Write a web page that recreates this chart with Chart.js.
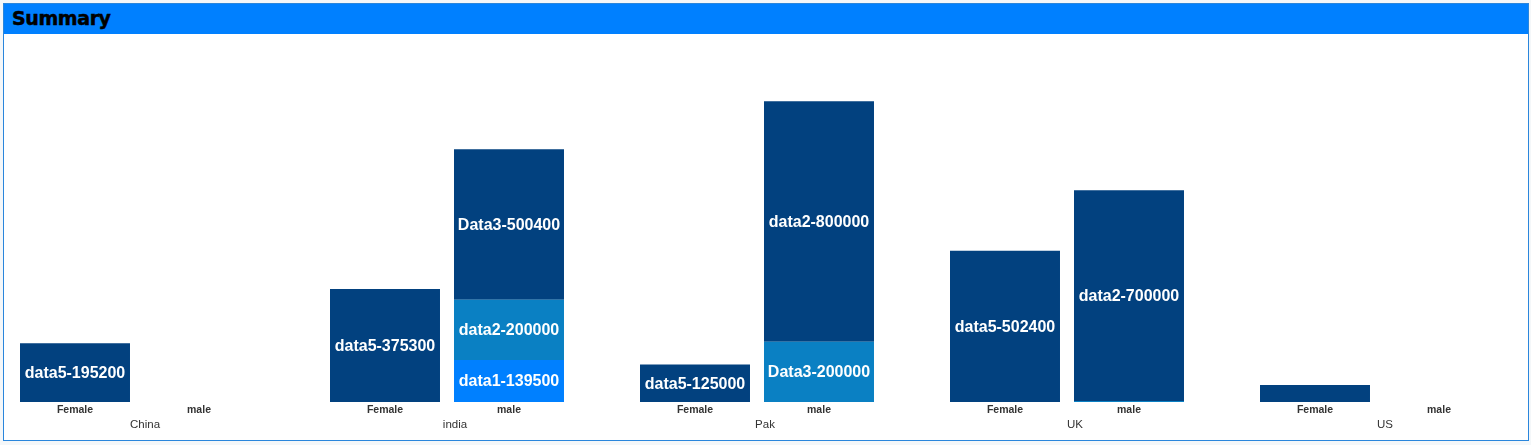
<!DOCTYPE html>
<html>
<head>
<meta charset="utf-8">
<script src="https://cdn.jsdelivr.net/npm/chart.js@4"></script>
<style>
  html, body { margin: 0; padding: 0; width: 1531px; height: 445px; overflow: hidden; background: #f4f7f9; }
  #panel { position: absolute; left: 3px; top: 3px; width: 1524px; height: 436px; border: 1px solid #2a86dc; background: #ffffff; }
  #titlebar { position: absolute; left: 0; top: 0; width: 1524px; height: 30px; background: #0080ff; }
  #title { position: absolute; left: 8px; top: 3px; font-family: "DejaVu Sans", Verdana, sans-serif; font-weight: bold; font-size: 19px; letter-spacing: -0.4px; color: #000; -webkit-text-stroke: 0.5px #000; }
  #wrap { position: absolute; left: -18px; top: 34px; width: 1550px; height: 406px; }
</style>
</head>
<body>
<div id="panel"><div id="titlebar"><div id="title">Summary</div></div></div>
<div id="wrap"><canvas id="c" width="1550" height="406"></canvas></div>
<script>
const countries = ['China', 'india', 'Pak', 'UK', 'US'];
const subLabels = ['Female', 'male'];

const femaleNames  = ['data5', 'data5', 'data5', 'data5', 'data5'];
const femaleValues = [195200, 375300, 125000, 502400, 56500];

const maleBottomNames  = ['', 'data1', 'Data3', 'data1', ''];
const maleBottomValues = [0, 139500, 200000, 3500, 0];

const maleMiddleNames  = ['', 'data2', 'data2', 'data2', ''];
const maleMiddleValues = [0, 200000, 800000, 700000, 0];

const maleTopNames  = ['', 'Data3', '', '', ''];
const maleTopValues = [0, 500400, 0, 0, 0];

const palette = ['#02417f', '#0a80c3', '#0080ff'];

function segColor(ctx) {
  const ds = ctx.chart.data.datasets;
  const i = ctx.dataIndex;
  const me = ds[ctx.datasetIndex];
  let rank = 0;
  for (let k = ctx.datasetIndex + 1; k < ds.length; k++) {
    if (ds[k].stack === me.stack && ds[k].data[i] > 0) rank++;
  }
  return palette[Math.min(rank, palette.length - 1)];
}

const segLabels = {
  id: 'segLabels',
  afterDatasetsDraw(chart) {
    const c = chart.ctx;
    c.save();
    c.fillStyle = '#ffffff';
    c.font = 'bold 16px "Liberation Sans", Arial, sans-serif';
    c.textAlign = 'center';
    c.textBaseline = 'middle';
    chart.data.datasets.forEach((d, di) => {
      const meta = chart.getDatasetMeta(di);
      meta.data.forEach((el, i) => {
        const v = d.data[i];
        if (!v) return;
        const h = Math.abs(el.base - el.y);
        if (h < 24) return;
        c.fillText(d.names[i] + '-' + v, el.x, (el.y + el.base) / 2 + 1);
      });
    });
    c.restore();
  }
};

const axisLabels = {
  id: 'axisLabels',
  afterDraw(chart) {
    const c = chart.ctx;
    const bottom = chart.chartArea.bottom;
    const fMeta = chart.getDatasetMeta(0);
    const mMeta = chart.getDatasetMeta(1);
    const xs = chart.scales.x;
    c.save();
    c.fillStyle = '#333333';
    c.textAlign = 'center';
    c.textBaseline = 'middle';
    countries.forEach((name, i) => {
      c.font = 'bold 10.5px "Liberation Sans", Arial, sans-serif';
      c.fillText(subLabels[0], fMeta.data[i].x, bottom + 8.5);
      c.fillText(subLabels[1], mMeta.data[i].x, bottom + 8.5);
      c.font = '11.5px "Liberation Sans", Arial, sans-serif';
      c.fillText(name, xs.getPixelForValue(i) + 8, bottom + 22.5);
    });
    c.restore();
  }
};

const common = { backgroundColor: segColor, borderWidth: 0, categoryPercentage: 0.8, barPercentage: 0.887 };

new Chart(document.getElementById('c'), {
  type: 'bar',
  data: {
    labels: countries,
    datasets: [
      Object.assign({ label: 'Female', stack: 'Female', data: femaleValues, names: femaleNames }, common),
      Object.assign({ label: 'male bottom', stack: 'male', data: maleBottomValues, names: maleBottomNames }, common),
      Object.assign({ label: 'male middle', stack: 'male', data: maleMiddleValues, names: maleMiddleNames }, common),
      Object.assign({ label: 'male top', stack: 'male', data: maleTopValues, names: maleTopNames }, common)
    ]
  },
  options: {
    responsive: false,
    devicePixelRatio: 1,
    animation: false,
    layout: { padding: { top: 7, bottom: 38, left: 0, right: 0 } },
    plugins: { legend: { display: false }, tooltip: { enabled: false }, title: { display: false } },
    scales: {
      x: { stacked: true, display: false, grid: { display: false } },
      y: { stacked: true, display: false, min: 0, max: 1200000, grid: { display: false } }
    }
  },
  plugins: [segLabels, axisLabels]
});
</script>
</body>
</html>
